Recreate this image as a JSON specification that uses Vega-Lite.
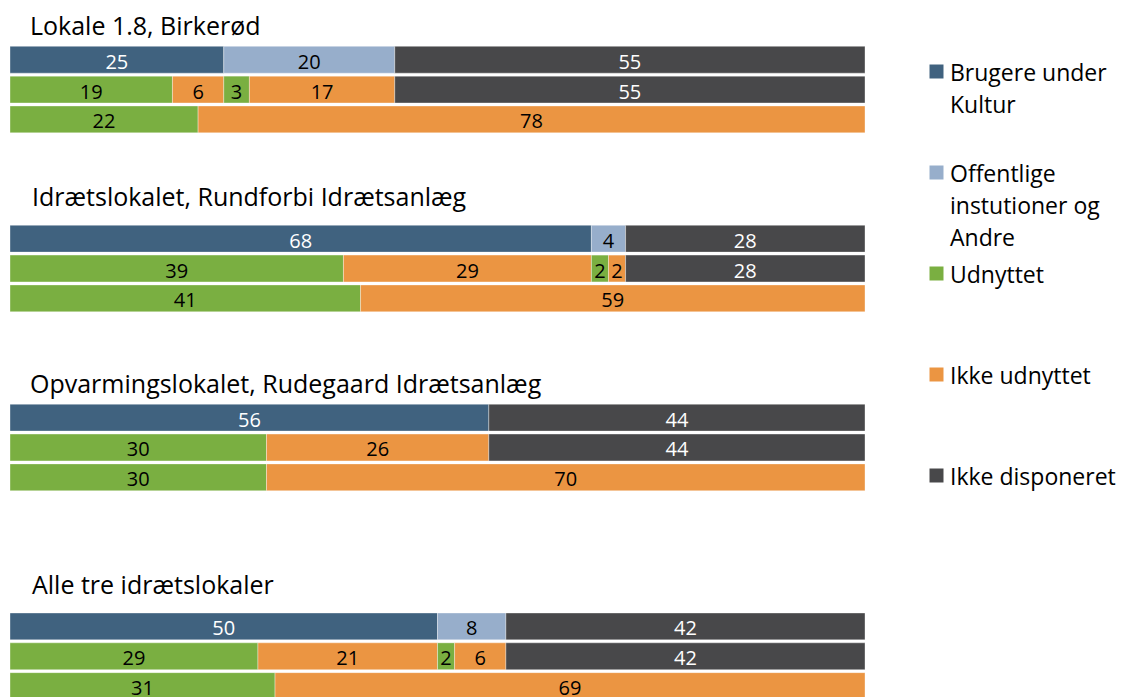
{
  "$schema": "https://vega.github.io/schema/vega-lite/v6.json",
  "width": 855,
  "height": 681,
  "autosize": {"type": "none"},
  "padding": {"left": 10, "top": 15, "right": 258, "bottom": 1},
  "background": "white",
  "config": {
    "view": {"stroke": null},
    "font": "Open Sans",
    "style": {"guide-label": {"lineHeight": 32, "dy": -9}}
  },
  "datasets": {
    "bars": [
      {"row": "L1a", "seq": 1, "cat": "Brugere under Kultur", "value": 25},
      {"row": "L1a", "seq": 2, "cat": "Offentlige instutioner og Andre", "value": 20},
      {"row": "L1a", "seq": 3, "cat": "Ikke disponeret", "value": 55},
      {"row": "L1b", "seq": 1, "cat": "Udnyttet", "value": 19},
      {"row": "L1b", "seq": 2, "cat": "Ikke udnyttet", "value": 6},
      {"row": "L1b", "seq": 3, "cat": "Udnyttet", "value": 3},
      {"row": "L1b", "seq": 4, "cat": "Ikke udnyttet", "value": 17},
      {"row": "L1b", "seq": 5, "cat": "Ikke disponeret", "value": 55},
      {"row": "L1c", "seq": 1, "cat": "Udnyttet", "value": 22},
      {"row": "L1c", "seq": 2, "cat": "Ikke udnyttet", "value": 78},
      {"row": "L2a", "seq": 1, "cat": "Brugere under Kultur", "value": 68},
      {"row": "L2a", "seq": 2, "cat": "Offentlige instutioner og Andre", "value": 4},
      {"row": "L2a", "seq": 3, "cat": "Ikke disponeret", "value": 28},
      {"row": "L2b", "seq": 1, "cat": "Udnyttet", "value": 39},
      {"row": "L2b", "seq": 2, "cat": "Ikke udnyttet", "value": 29},
      {"row": "L2b", "seq": 3, "cat": "Udnyttet", "value": 2},
      {"row": "L2b", "seq": 4, "cat": "Ikke udnyttet", "value": 2},
      {"row": "L2b", "seq": 5, "cat": "Ikke disponeret", "value": 28},
      {"row": "L2c", "seq": 1, "cat": "Udnyttet", "value": 41},
      {"row": "L2c", "seq": 2, "cat": "Ikke udnyttet", "value": 59},
      {"row": "L3a", "seq": 1, "cat": "Brugere under Kultur", "value": 56},
      {"row": "L3a", "seq": 3, "cat": "Ikke disponeret", "value": 44},
      {"row": "L3b", "seq": 1, "cat": "Udnyttet", "value": 30},
      {"row": "L3b", "seq": 2, "cat": "Ikke udnyttet", "value": 26},
      {"row": "L3b", "seq": 5, "cat": "Ikke disponeret", "value": 44},
      {"row": "L3c", "seq": 1, "cat": "Udnyttet", "value": 30},
      {"row": "L3c", "seq": 2, "cat": "Ikke udnyttet", "value": 70},
      {"row": "L4a", "seq": 1, "cat": "Brugere under Kultur", "value": 50},
      {"row": "L4a", "seq": 2, "cat": "Offentlige instutioner og Andre", "value": 8},
      {"row": "L4a", "seq": 3, "cat": "Ikke disponeret", "value": 42},
      {"row": "L4b", "seq": 1, "cat": "Udnyttet", "value": 29},
      {"row": "L4b", "seq": 2, "cat": "Ikke udnyttet", "value": 21},
      {"row": "L4b", "seq": 3, "cat": "Udnyttet", "value": 2},
      {"row": "L4b", "seq": 4, "cat": "Ikke udnyttet", "value": 6},
      {"row": "L4b", "seq": 5, "cat": "Ikke disponeret", "value": 42},
      {"row": "L4c", "seq": 1, "cat": "Udnyttet", "value": 31},
      {"row": "L4c", "seq": 2, "cat": "Ikke udnyttet", "value": 69}
    ],
    "titles": [
      {"row": "L1a", "group": 1, "title": "Lokale 1.8, Birkerød"},
      {"row": "L2a", "group": 2, "title": "Idrætslokalet, Rundforbi Idrætsanlæg"},
      {"row": "L3a", "group": 3, "title": "Opvarmingslokalet, Rudegaard Idrætsanlæg"},
      {"row": "L4a", "group": 4, "title": "Alle tre idrætslokaler"}
    ]
  },
  "encoding": {
    "y": {
      "field": "row",
      "type": "nominal",
      "axis": null,
      "scale": {
        "domain": ["s0", "L1a", "L1b", "L1c", "s4", "s5", "s6", "L2a", "L2b", "L2c", "s10", "s11", "s12", "L3a", "L3b", "L3c", "s16", "s17", "s18", "s19", "L4a", "L4b", "L4c"],
        "range": [0, 686],
        "paddingInner": 0.1,
        "paddingOuter": 0.05
      }
    }
  },
  "layer": [
    {
      "data": {"name": "bars"},
      "transform": [
        {"stack": "value", "groupby": ["row"], "sort": [{"field": "seq", "order": "ascending"}], "as": ["x0", "x1"]},
        {"calculate": "(datum.x0 + datum.x1) / 2", "as": "mid"}
      ],
      "layer": [
        {
          "mark": {"type": "bar", "stroke": "white", "strokeWidth": 0.6, "strokeOpacity": 0.6},
          "encoding": {
            "x": {"field": "x0", "type": "quantitative", "scale": {"domain": [0, 100], "nice": false}, "axis": null},
            "x2": {"field": "x1"},
            "color": {
              "field": "cat",
              "type": "nominal",
              "scale": {
                "domain": ["Brugere under Kultur", "Offentlige instutioner og Andre", "Udnyttet", "Ikke udnyttet", "Ikke disponeret"],
                "range": ["#40627f", "#97aecb", "#7aaf41", "#eb9542", "#48484a"]
              },
              "legend": {
                "title": null,
                "orient": "none",
                "legendX": 915,
                "legendY": 45,
                "symbolType": "square",
                "symbolSize": 196,
                "symbolStrokeWidth": 0,
                "symbolOpacity": 1,
                "labelFontSize": 23,
                "labelColor": "black",
                "labelLimit": 300,
                "labelOffset": 2,
                "gridAlign": "all",
                "rowPadding": 11,
                "labelBaseline": "top",
                "labelExpr": "datum.label == 'Brugere under Kultur' ? ['Brugere under', 'Kultur'] : datum.label == 'Offentlige instutioner og Andre' ? ['Offentlige', 'instutioner og', 'Andre'] : datum.label"
              }
            }
          }
        },
        {
          "mark": {"type": "text", "fontSize": 20, "dy": 3},
          "encoding": {
            "x": {"field": "mid", "type": "quantitative"},
            "text": {"field": "value", "type": "quantitative"},
            "color": {
              "condition": {"test": "datum.cat == 'Brugere under Kultur' || datum.cat == 'Ikke disponeret'", "value": "white"},
              "value": "black"
            }
          }
        }
      ]
    },
    {
      "data": {"name": "titles"},
      "transform": [{"filter": "datum.group == 1 || datum.group == 3"}],
      "mark": {"type": "text", "fontSize": 25, "align": "left", "baseline": "middle", "dx": 20, "dy": -19, "color": "black"},
      "encoding": {
        "x": {"datum": 0, "type": "quantitative"},
        "y": {"field": "row", "type": "nominal", "bandPosition": 0},
        "text": {"field": "title"}
      }
    },
    {
      "data": {"name": "titles"},
      "transform": [{"filter": "datum.group == 2 || datum.group == 4"}],
      "mark": {"type": "text", "fontSize": 25, "align": "left", "baseline": "middle", "dx": 22, "dy": -27, "color": "black"},
      "encoding": {
        "x": {"datum": 0, "type": "quantitative"},
        "y": {"field": "row", "type": "nominal", "bandPosition": 0},
        "text": {"field": "title"}
      }
    }
  ]
}
